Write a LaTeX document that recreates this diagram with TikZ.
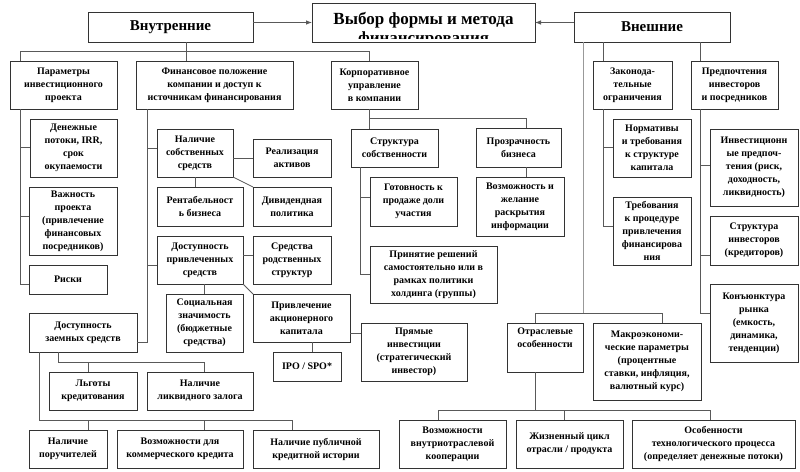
\documentclass[tikz,border=0pt]{standalone}
\usepackage{fontspec}
\setmainfont{Liberation Serif}
\usetikzlibrary{arrows.meta}
\newcommand\bx[7][box]{\node[#1, minimum width={(#5-#3)*1pt}, minimum height={(#6-#4)*1pt}] (#2) at ({(#3+#5)/2},{(#4+#6)/2}) {#7};}
\begin{document}
\begin{tikzpicture}[x=1pt,y=-1pt,
  box/.style={draw=black!80, line width=0.8pt, inner sep=0pt, outer sep=0pt, align=center, font=\fontsize{10}{13}\selectfont\bfseries, fill=white},
  big/.style={box, font=\fontsize{15}{18}\selectfont\bfseries},
  con/.style={draw=black!65, line width=0.8pt},
  arr/.style={con, -{Latex[length=6pt,width=4.5pt]}}
]
\fill[white] (0,0) rectangle (800,471);
\useasboundingbox (0,0) rectangle (800,471);

% title
\node[draw=black!80, line width=0.8pt, inner sep=0pt, outer sep=0pt, minimum width=223pt, minimum height=39pt] (title) at (423.5,22.5) {};
\begin{scope}
\clip (313,4) rectangle (534,38);
\node[font=\fontsize{17}{19}\selectfont\bfseries, align=center, anchor=north, inner sep=0pt] (titletext) at (423.5,12) {Выбор формы и метода\\финансирования};
\end{scope}

\bx[big]{vnutr}{88}{12}{253}{42}{Внутренние}
\bx[big]{vnesh}{574}{12}{730}{42}{Внешние}

\bx{param}{10}{61}{117}{109}{Параметры\\инвестиционного\\проекта}
\bx{fin}{136}{61}{293}{109}{Финансовое положение\\компании и доступ к\\источникам финансирования}
\bx{korp}{331}{61}{418}{109}{Корпоративное\\управление\\в компании}
\bx{zak}{593}{61}{672}{109}{Законода-\\тельные\\ограничения}
\bx{pref}{691}{61}{778}{109}{Предпочтения\\инвесторов\\и посредников}

\bx{den}{30}{119}{117}{177}{Денежные\\потоки, IRR,\\срок\\окупаемости}
\bx{vazh}{29}{187}{117}{255}{Важность\\проекта\\(привлечение\\финансовых\\посредников)}
\bx{risk}{29}{265}{107}{294}{Риски}

\bx{nal}{157}{129}{233}{177}{Наличие\\собственных\\средств}
\bx{real}{253}{139}{331}{177}{Реализация\\активов}
\bx{rent}{157}{187}{243}{226}{Рентабельност\\ь бизнеса}
\bx{div}{253}{187}{331}{226}{Дивидендная\\политика}
\bx{dost}{157}{236}{243}{284}{Доступность\\привлеченных\\средств}
\bx{rodst}{253}{236}{331}{284}{Средства\\родственных\\структур}
\bx{soc}{166}{294}{243}{352}{Социальная\\значимость\\(бюджетные\\средства)}
\bx{priv}{253}{294}{350}{342}{Привлечение\\акционерного\\капитала}
\bx{ipo}{273}{352}{341}{381}{IPO / SPO*}
\bx{pryam}{361}{323}{467}{381}{Прямые\\инвестиции\\(стратегический\\инвестор)}

\bx{strukt}{351}{129}{438}{167}{Структура\\собственности}
\bx{got}{370}{177}{457}{226}{Готовность к\\продаже доли\\участия}
\bx{prin}{370}{246}{497}{303}{Принятие решений\\самостоятельно или в\\рамках политики\\холдинга (группы)}
\bx{proz}{476}{128}{561}{167}{Прозрачность\\бизнеса}
\bx{vozm}{476}{177}{564}{236}{Возможность и\\желание\\раскрытия\\информации}

\bx{norm}{613}{119}{691}{177}{Нормативы\\и требования\\к структуре\\капитала}
\bx{treb}{613}{197}{691}{265}{Требования\\к процедуре\\привлечения\\финансирова\\ния}
\bx{inv}{710}{129}{798}{206}{Инвестиционн\\ые предпоч-\\тения (риск,\\доходность,\\ликвидность)}
\bx{strinv}{710}{216}{798}{265}{Структура\\инвесторов\\(кредиторов)}
\bx{kon}{710}{284}{798}{362}{Конъюнктура\\рынка\\(емкость,\\динамика,\\тенденции)}

\bx{otr}{507}{323}{583}{372}{Отраслевые\\особенности\\[6pt]}
\bx{makro}{593}{323}{701}{400}{Макроэкономи-\\ческие параметры\\(процентные\\ставки, инфляция,\\валютный курс)}

\bx{vnutri}{399}{420}{506}{468}{Возможности\\внутриотраслевой\\кооперации}
\bx{zhizn}{516}{420}{623}{468}{Жизненный цикл\\отрасли / продукта}
\bx{osob}{632}{420}{795}{468}{Особенности\\технологического процесса\\(определяет денежные потоки)}

\bx{zaem}{29}{313}{137}{352}{Доступность\\заемных средств}
\bx{lgoty}{49}{372}{137}{410}{Льготы\\кредитования}
\bx{zalog}{147}{372}{253}{410}{Наличие\\ликвидного залога}
\bx{poruch}{29}{430}{107}{468}{Наличие\\поручителей}
\bx{komm}{117}{430}{243}{468}{Возможности для\\коммерческого кредита}
\bx{publ}{253}{430}{379}{468}{Наличие публичной\\кредитной истории}

% arrows to the title
\draw[arr] (vnutr.east |- title.west) -- (title.west);
\draw[arr] (vnesh.west |- title.east) -- (title.east);

% internal tree
\coordinate (hL) at (20,51);
\coordinate (hR) at (369,51);
\coordinate (v1) at (186,51);
\draw[con] (hL |- param.north) -- (hL) -- (hR) -- (hR |- korp.north);
\draw[con] (v1 |- vnutr.south) -- (v1 |- fin.north);
\coordinate (pR) at (20,284);
\coordinate (pD) at (20,147);
\coordinate (pV) at (20,216);
\draw[con] (hL |- param.south) -- (pR) -- (pR -| risk.west);
\draw[con] (pD) -- (pD -| den.west);
\draw[con] (pV) -- (pV -| vazh.west);

\coordinate (vF) at (147,342);
\coordinate (fN) at (147,148);
\coordinate (fD) at (147,265);
\draw[con] (vF |- fin.south) -- (vF) -- (vF -| zaem.east);
\draw[con] (fN) -- (fN -| nal.west);
\draw[con] (fD) -- (fD -| dost.west);
\draw[con] (nal.south) -- (nal.south |- rent.north);
\draw[con] (nal.east |- real.west) -- (real.west);
\draw[con] (nal.south east) -- (div.north west);
\coordinate (dR) at (248,255);
\draw[con] (dR -| dost.east) -- (dR -| rodst.west);
\draw[con] (soc.north) -- (soc.north |- dost.south);
\draw[con] (dost.south east) -- (priv.north west);
\coordinate (iP) at (312,350);
\draw[con] (iP |- ipo.north) -- (iP |- priv.south);
\coordinate (c333) at (355,333);
\draw[con] (c333 -| priv.east) -- (c333 -| pryam.west);

\coordinate (k1) at (526,118);
\draw[con] (hR |- korp.south) -- (hR |- strukt.north);
\draw[con] (hR |- k1) -- (k1) -- (k1 |- proz.north);
\draw[con] (k1 |- proz.south) -- (k1 |- vozm.north);
\coordinate (vS) at (360,274);
\coordinate (vG) at (360,197);
\draw[con] (vS |- strukt.south) -- (vS) -- (vS -| prin.west);
\draw[con] (vG) -- (vG -| got.west);

\coordinate (z1) at (58,362);
\coordinate (z2) at (88,362);
\coordinate (z3) at (204,362);
\draw[con] (z1 |- zaem.south) -- (z1) -- (z3) -- (z3 |- zalog.north);
\draw[con] (z2) -- (z2 |- lgoty.north);
\coordinate (w1) at (39,420);
\coordinate (w2) at (88,420);
\coordinate (w3) at (204,420);
\coordinate (w4) at (292,420);
\draw[con] (w1 |- zaem.south) -- (w1) -- (w4) -- (w4 |- publ.north);
\draw[con] (w2) -- (w2 |- poruch.north);
\draw[con] (w3) -- (w3 |- komm.north);

% external tree
\coordinate (r1) at (583,313);
\coordinate (r2) at (603,226);
\coordinate (r3) at (700,313);
\draw[con, draw=black!40] (r1 |- vnesh.south) -- (r1);
\coordinate (o1) at (535,313);
\coordinate (o2) at (662,313);
\draw[con] (o1 |- otr.north) -- (o1) -- (o2) -- (o2 |- makro.north);
\draw[con] (r2 |- vnesh.south) -- (r2 |- zak.north);
\draw[con] (r2 |- zak.south) -- (r2) -- (r2 -| treb.west);
\coordinate (rN) at (603,147);
\draw[con] (rN) -- (rN -| norm.west);
\draw[con] (r3 |- vnesh.south) -- (r3 |- pref.north);
\draw[con] (r3 |- pref.south) -- (r3) -- (r3 -| kon.west);
\coordinate (rI) at (700,165);
\draw[con] (rI) -- (rI -| inv.west);
\coordinate (c255) at (705,255);
\draw[con] (c255 -| r3) -- (c255 -| strinv.west);

\coordinate (b0) at (535,410);
\coordinate (b1) at (438,410);
\coordinate (b2) at (564,410);
\coordinate (b3) at (710,410);
\draw[con] (b0 |- otr.south) -- (b0);
\draw[con] (b1 |- vnutri.north) -- (b1) -- (b3) -- (b3 |- osob.north);
\draw[con] (b2) -- (b2 |- zhizn.north);
\end{tikzpicture}
\end{document}
